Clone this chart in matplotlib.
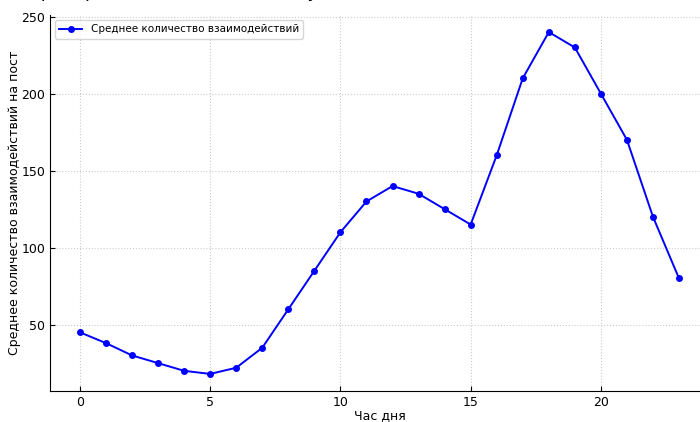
import numpy as np
import matplotlib.pyplot as plt

# Данные: среднее количество взаимодействий по часам
hours = list(range(24))
interactions = [45, 38, 30, 25, 20, 18, 22, 35, 60, 85, 110, 130,
                140, 135, 125, 115, 160, 210, 240, 230, 200, 170, 120, 80]

title = "Среднее количество взаимодействий в зависимости от часа, распределенное по часам публикации"

fig = plt.figure(figsize=(7, 4.22), dpi=100)
ax = fig.add_axes([50 / 700, 31 / 422, 659 / 700, 376 / 422])

ax.plot(hours, interactions, 'o-', color='blue', linewidth=1.4, markersize=4,
        label='Среднее количество взаимодействий')

ax.set_xlabel('Час дня', fontsize=9, labelpad=0)
ax.set_ylabel('Среднее количество взаимодействий на пост', fontsize=9, labelpad=0)
ax.set_xticks([0, 5, 10, 15, 20])
ax.set_yticks([50, 100, 150, 200, 250])
ax.tick_params(direction='in', labelsize=9)
ax.grid(True, linestyle=':', color='#cccccc', linewidth=0.8)
ax.spines['top'].set_visible(False)
ax.spines['right'].set_visible(False)
ax.legend(loc='upper left', fontsize=7.5, handlelength=2.2)

# заголовок обрезан сверху, как в исходной картинке
fig.text(410 / 700, 1 + 3 / 422, title, ha='right', va='baseline', fontsize=13)

fig.savefig('out.png', dpi=100)
